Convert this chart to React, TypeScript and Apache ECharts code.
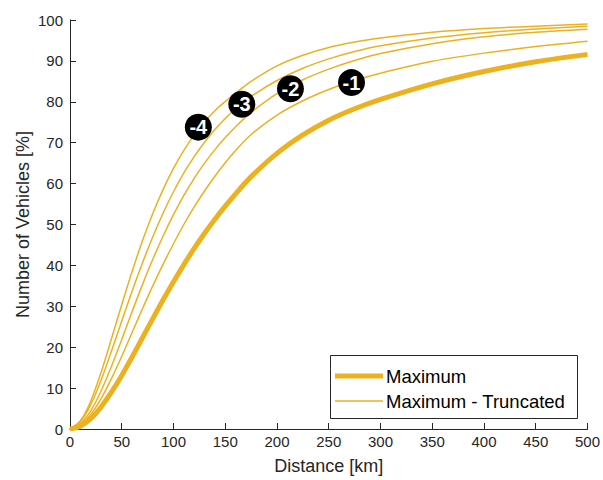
import React, { useEffect, useRef } from "react";
import * as echarts from "echarts";

// Distance samples in km
const distanceKm = [0, 10, 20, 30, 40, 50, 60, 70, 80, 90, 100, 110, 120, 130, 140, 150, 160, 175, 200, 225, 250, 275, 300, 350, 400, 450, 500];

// Share of vehicles (%) covered at each distance
const maximum = [0, 0.7, 2.5, 5.4, 9.0, 13.1, 17.6, 22.3, 27.0, 31.6, 36.0, 40.2, 44.15, 47.85, 51.3, 54.5, 57.5, 61.7, 67.4, 71.9, 75.5, 78.3, 80.6, 84.4, 87.4, 89.8, 91.6];
const truncatedMinus1 = [0, 1.0, 3.5, 7.4, 12.3, 17.8, 23.6, 29.4, 35.0, 40.3, 45.3, 50.0, 54.3, 58.2, 61.8, 65.1, 68.1, 72.0, 76.75, 80.25, 83.0, 85.2, 87.0, 89.9, 91.9, 93.5, 94.8];
const truncatedMinus2 = [0, 1.3, 4.4, 9.3, 15.3, 21.9, 28.7, 35.3, 41.5, 47.2, 52.4, 57.1, 61.3, 65.0, 68.3, 71.25, 73.9, 77.4, 82.0, 85.4, 88.0, 90.1, 91.8, 94.2, 95.9, 97.0, 97.75];
const truncatedMinus3 = [0, 1.8, 5.9, 11.9, 19.0, 26.4, 33.7, 40.6, 47.0, 52.8, 58.0, 62.6, 66.6, 70.1, 73.2, 75.9, 78.3, 81.3, 85.2, 88.2, 90.5, 92.3, 93.7, 95.6, 96.9, 97.8, 98.5];
const truncatedMinus4 = [0, 2.0, 6.8, 13.8, 22.0, 30.4, 38.5, 46.0, 52.7, 58.6, 63.7, 68.1, 71.9, 75.1, 77.8, 80.1, 82.1, 85.0, 88.8, 91.4, 93.3, 94.6, 95.6, 97.0, 97.9, 98.5, 99.0];

// Badges naming each truncated curve, placed on the curve
const badgeLabels = ["-4", "-3", "-2", "-1"];
const badgeKm = [124, 166, 213, 272];
const badgePct = [73.8, 79.4, 83.2, 84.7];

const legendNames = ["Maximum", "Maximum - Truncated"];

const xTicks = [0, 50, 100, 150, 200, 250, 300, 350, 400, 450, 500];
const yTicks = [0, 10, 20, 30, 40, 50, 60, 70, 80, 90, 100];

const LINE_COLOR = "#EDB120";
const AXIS_COLOR = "#262626";
const FONT = "'Liberation Sans', Arial, Helvetica, sans-serif";
const THICK = 5;
const THIN = 1.5;

const pair = (ys: number[]) => distanceKm.map((x, i) => [x, ys[i]]);

export default function App() {
  const ref = useRef<HTMLDivElement>(null);

  useEffect(() => {
    if (!ref.current) return;
    const chart = echarts.init(ref.current, null, { renderer: "svg" });

    const truncated = [truncatedMinus1, truncatedMinus2, truncatedMinus3, truncatedMinus4];

    // Boxed legend in the lower right of the plot area
    const box = { x: 330, y: 355, w: 247, h: 63 };
    const legendRows = [
      { name: legendNames[0], width: THICK, y: box.y + 21 },
      { name: legendNames[1], width: THIN, y: box.y + 46 },
    ];
    const legendGraphic = {
      type: "group",
      z: 100,
      children: [
        {
          type: "rect",
          shape: { x: box.x + 0.5, y: box.y + 0.5, width: box.w, height: box.h },
          style: { fill: "#ffffff", stroke: AXIS_COLOR, lineWidth: 1 },
        },
        ...legendRows.flatMap((r) => [
          {
            type: "line",
            shape: { x1: box.x + 5, y1: r.y, x2: box.x + 53, y2: r.y },
            style: { stroke: LINE_COLOR, lineWidth: r.width },
          },
          {
            type: "text",
            x: box.x + 56,
            y: r.y,
            style: {
              text: r.name,
              fill: "#000000",
              font: `18.5px ${FONT}`,
              verticalAlign: "middle",
              align: "left",
            },
          },
        ]),
      ],
    };

    chart.setOption({
      animation: false,
      backgroundColor: "#ffffff",
      textStyle: { fontFamily: FONT },
      grid: { left: 70, right: 13, top: 20, bottom: 50, containLabel: false },
      xAxis: {
        type: "value",
        min: xTicks[0],
        max: xTicks[xTicks.length - 1],
        interval: 50,
        name: "Distance [km]",
        nameLocation: "middle",
        nameGap: 28,
        nameMoveOverlap: false,
        nameTextStyle: { color: AXIS_COLOR, fontSize: 18, fontFamily: FONT },
        axisLine: { lineStyle: { color: AXIS_COLOR, width: 1 } },
        axisTick: { inside: true, length: 6, lineStyle: { color: AXIS_COLOR } },
        axisLabel: { color: AXIS_COLOR, fontSize: 15, fontFamily: FONT, margin: 5 },
        splitLine: { show: false },
      },
      yAxis: {
        type: "value",
        min: yTicks[0],
        max: yTicks[yTicks.length - 1],
        interval: 10,
        name: "Number of Vehicles [%]",
        nameLocation: "middle",
        nameGap: 38,
        nameMoveOverlap: false,
        nameTextStyle: { color: AXIS_COLOR, fontSize: 18, fontFamily: FONT },
        axisLine: { show: true, lineStyle: { color: AXIS_COLOR, width: 1 } },
        axisTick: { show: true, inside: true, length: 6, lineStyle: { color: AXIS_COLOR } },
        axisLabel: { color: AXIS_COLOR, fontSize: 15, fontFamily: FONT, margin: 7 },
        splitLine: { show: false },
      },
      graphic: [legendGraphic],
      series: [
        ...truncated.map((ys) => ({
          name: legendNames[1],
          type: "line",
          data: pair(ys),
          smooth: 0.3,
          symbol: "none",
          lineStyle: { color: LINE_COLOR, width: THIN },
          itemStyle: { color: LINE_COLOR },
          z: 2,
        })),
        {
          name: legendNames[0],
          type: "line",
          data: pair(maximum),
          smooth: 0.3,
          symbol: "none",
          lineStyle: { color: LINE_COLOR, width: THICK },
          itemStyle: { color: LINE_COLOR },
          z: 3,
        },
        {
          name: "badges",
          type: "scatter",
          data: badgeKm.map((x, i) => ({ value: [x, badgePct[i]], label: { formatter: badgeLabels[i] } })),
          symbol: "circle",
          symbolSize: 27,
          itemStyle: { color: "#000000", opacity: 1 },
          label: {
            show: true,
            position: "inside",
            color: "#ffffff",
            fontSize: 20,
            fontWeight: "bold",
            fontFamily: FONT,
          },
          z: 5,
        },
      ],
    });

    return () => chart.dispose();
  }, []);

  return <div ref={ref} style={{ position: "fixed", left: 0, top: 0, width: 603, height: 480 }} />;
}
